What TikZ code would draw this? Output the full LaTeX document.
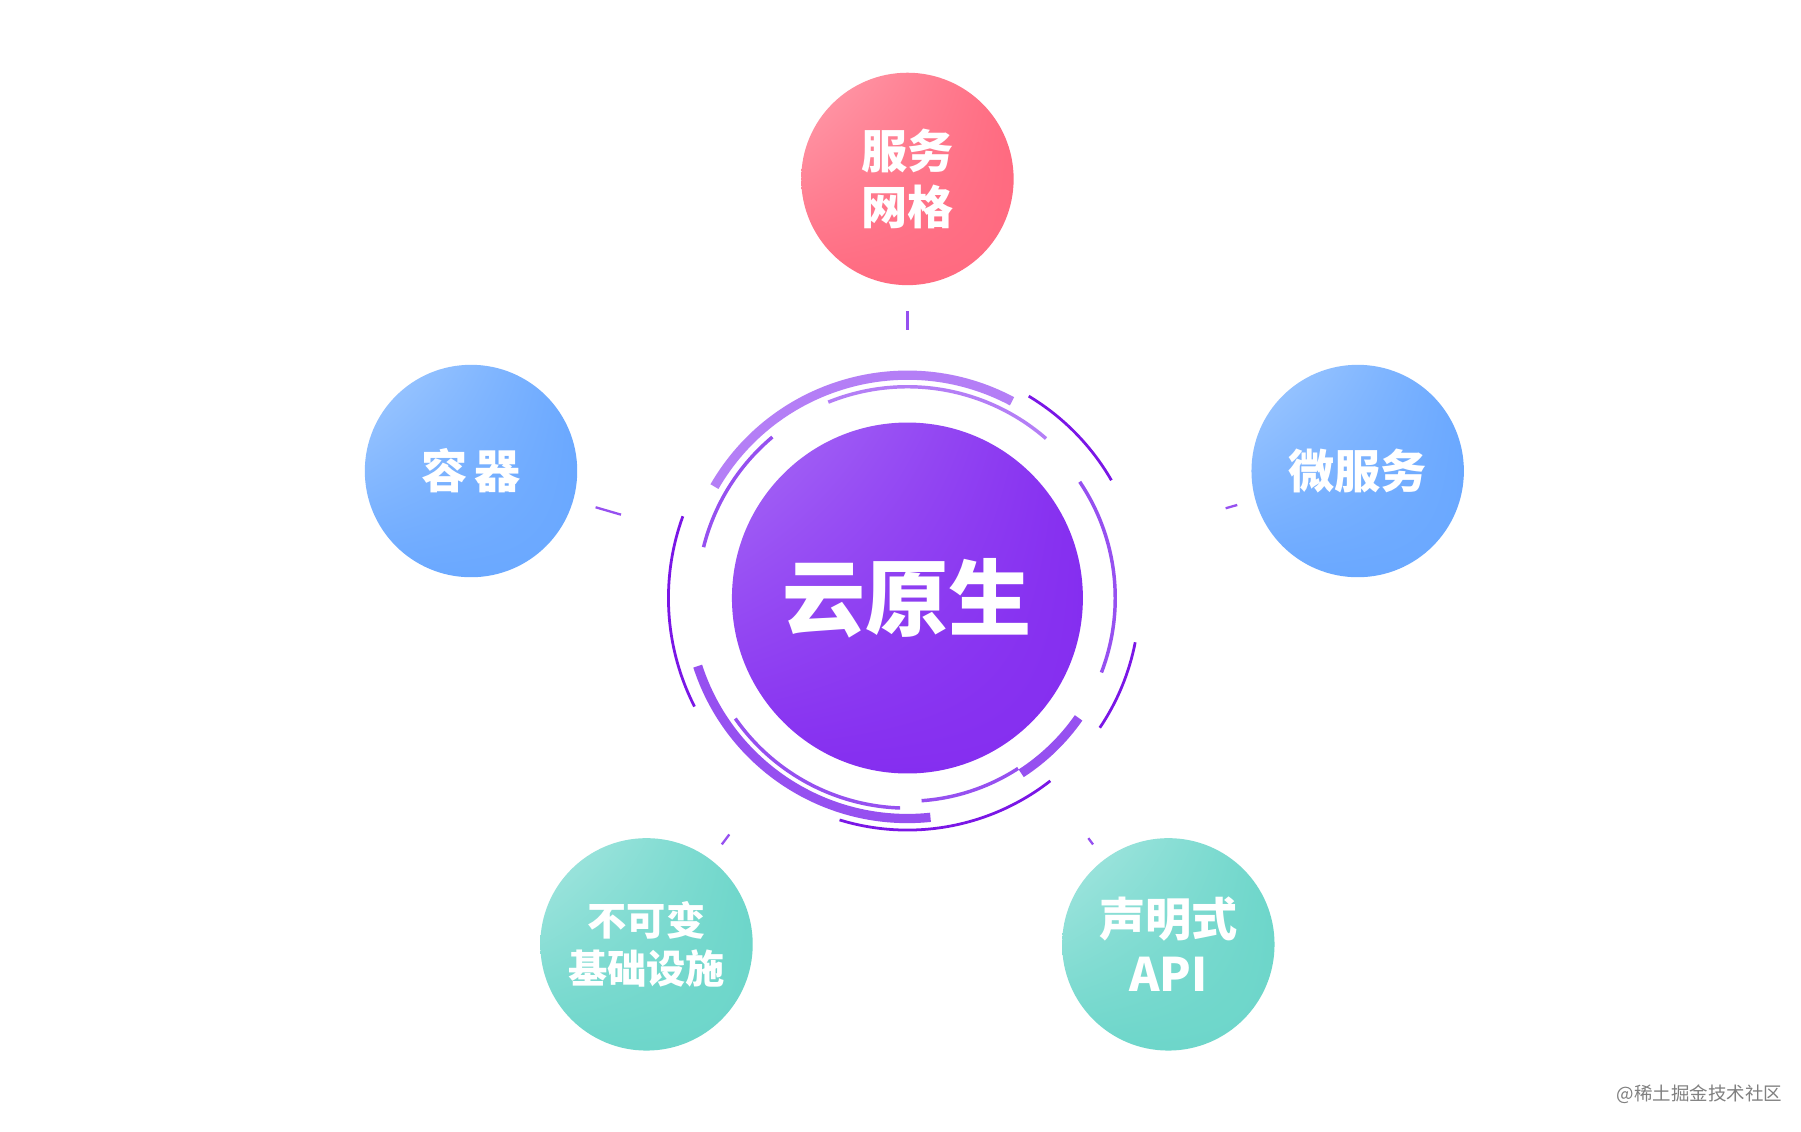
\documentclass[tikz,border=0pt]{standalone}
\usepackage{fontspec}
\setmainfont{Noto Sans CJK SC}
\usetikzlibrary{calc,shadings}
\definecolor{hubmain}{HTML}{852EF0}
\definecolor{hublight}{HTML}{A86CF6}
\definecolor{ringlight}{HTML}{B47EF6}
\definecolor{ringdark}{HTML}{7A16E6}
\definecolor{ringmid}{HTML}{9650F0}
\definecolor{redmain}{HTML}{FF6A80}
\definecolor{redlight}{HTML}{FFA0AE}
\definecolor{bluemain}{HTML}{6AA8FF}
\definecolor{bluelight}{HTML}{A3CBFF}
\definecolor{tealmain}{HTML}{6DD6CA}
\definecolor{teallight}{HTML}{A8E7E1}
\tikzset{
    bubble/.style = {circle, inner sep=0pt, minimum size=92pt, align=center,
        text=white, font=\fontsize{20}{24}\selectfont\bfseries},
    redball/.style = {bubble, upper left=redlight, upper right=redmain, lower left=redmain, lower right=redmain},
    blueball/.style = {bubble, upper left=bluelight, upper right=bluemain, lower left=bluemain, lower right=bluemain},
    tealball/.style = {bubble, upper left=teallight, upper right=tealmain, lower left=tealmain, lower right=tealmain},
    hub/.style = {circle, inner sep=0pt, minimum size=152pt, text=white,
        upper left=hublight, upper right=hubmain, lower left=hubmain, lower right=hubmain,
        font=\fontsize{36}{40}\selectfont\bfseries},
    link/.style = {draw=ringmid, line width=1pt},
    arcthin/.style = {draw=ringdark, line width=1.2pt},
}
\begin{document}
\begin{tikzpicture}[x=0.5pt, y=0.5pt]
    \useasboundingbox (0,0) rectangle (1560,980);
    \fill[white] (0,0) rectangle (1560,980);
    \coordinate (c) at (786,462);
    \node [hub] (hub) at (c) {云原生};
    \node [redball] (mesh) at (786,825) {服务\\网格};
    \node [blueball] (box) at (408,572) {容\,器};
    \node [blueball] (micro) at (1176,572) {微服务};
    \node [tealball, font=\fontsize{17}{21}\selectfont\bfseries] (infra) at (560,162) {不可变\\基础设施};
    \node [tealball] (api) at (1012,162) {声明式\\API};
    % rings round the hub
    \draw [draw=ringlight, line width=4pt] ($(c)+(62:193)$) arc[start angle=62, end angle=150, radius=193];
    \draw [draw=ringlight, line width=1.5pt] ($(c)+(49:183)$) arc[start angle=49, end angle=112, radius=183];
    \draw [draw=ringmid, line width=1.5pt] ($(c)+(130:182)$) arc[start angle=130, end angle=166, radius=182];
    \draw [draw=ringmid, line width=1.5pt] ($(c)+(-21:180)$) arc[start angle=-21, end angle=34, radius=180];
    \draw [draw=ringmid, line width=4pt] ($(c)+(198:191)$) arc[start angle=198, end angle=276, radius=191];
    \draw [draw=ringmid, line width=1.5pt] ($(c)+(215:182)$) arc[start angle=215, end angle=268, radius=182];
    \draw [draw=ringmid, line width=4pt] ($(c)+(-57:181)$) arc[start angle=-57, end angle=-35, radius=181];
    \draw [draw=ringmid, line width=1.5pt] ($(c)+(-86:176)$) arc[start angle=-86, end angle=-57, radius=176];
    \draw [arcthin] ($(c)+(30:204)$) arc[start angle=30, end angle=59, radius=204];
    \draw [arcthin] ($(c)+(-34:201)$) arc[start angle=-34, end angle=-11, radius=201];
    \draw [arcthin] ($(c)+(160:207)$) arc[start angle=160, end angle=207, radius=207];
    \draw [arcthin] ($(c)+(253:201)$) arc[start angle=253, end angle=308, radius=201];
    % spokes
    \draw [link, shorten <=40, shorten >=11] (hub) -- (mesh);
    \draw [link, shorten <=53, shorten >=10] (hub) -- (box);
    \draw [link, shorten <=67, shorten >=8] (hub) -- (micro);
    \draw [link, shorten <=52, shorten >=8] (hub) -- (infra);
    \draw [link, shorten <=54, shorten >=8] (hub) -- (api);
    \node [text=gray, font=\fontsize{8}{10}\selectfont] (mark) at (1472,32) {@稀土掘金技术社区};
\end{tikzpicture}
\end{document}
